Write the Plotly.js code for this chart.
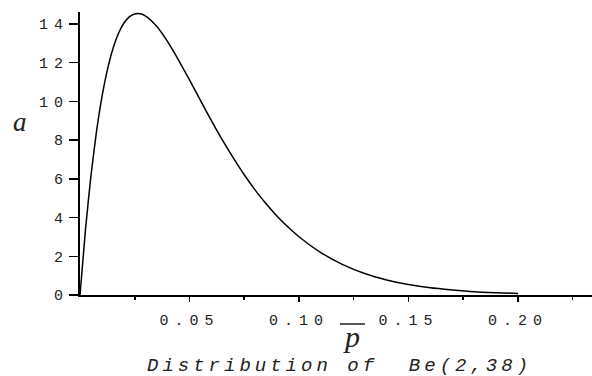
<!DOCTYPE html>
<html>
<head>
<meta charset="utf-8">
<script src="https://cdn.plot.ly/plotly-3.0.1.min.js"></script>
<style>
  html, body { margin: 0; padding: 0; background: #fff; }
  #chart { width: 592px; height: 376px; }
  .xtick text, .ytick text { letter-spacing: 6px; }
</style>
</head>
<body>
<div id="chart"></div>
<script>
// Values: Be(2,38) density curve
const pValues = [0, 0.0025, 0.005, 0.0075, 0.01, 0.0125, 0.015, 0.0175, 0.02, 0.0225, 0.025, 0.0275, 0.03, 0.035, 0.04, 0.045, 0.05, 0.055, 0.06, 0.065, 0.07, 0.075, 0.08, 0.085, 0.09, 0.095, 0.10, 0.11, 0.12, 0.13, 0.14, 0.15, 0.16, 0.17, 0.18, 0.19, 0.20];
const density = [0, 3.38, 6.16, 8.41, 10.22, 11.63, 12.71, 13.50, 14.04, 14.37, 14.52, 14.53, 14.41, 13.88, 13.09, 12.14, 11.11, 10.05, 9.01, 8.01, 7.08, 6.21, 5.42, 4.71, 4.07, 3.51, 3.01, 2.19, 1.57, 1.11, 0.78, 0.54, 0.37, 0.26, 0.17, 0.12, 0.08];

const xTickVals = [0.05, 0.10, 0.15, 0.20];
const xTickText = ['0.05', '0.10', '0.15', '0.20'];
const xMinorVals = [0.025, 0.075, 0.125, 0.175, 0.225];
const yTickVals = [0, 2, 4, 6, 8, 10, 12, 14];
const yTickText = ['0', '2', '4', '6', '8', '10', '12', '14'];

const yLabel = 'a';
const xLabel = 'p';
const captionText = 'Distribution of  Be(2,38)';

const tickFont = { family: 'Liberation Mono, Courier New, monospace', size: 15, color: '#222' };

const trace = {
  x: pValues,
  y: density,
  type: 'scatter',
  mode: 'lines',
  line: { color: '#000', width: 1.5, shape: 'spline', smoothing: 0.6 },
  hoverinfo: 'skip'
};

const layout = {
  width: 592,
  height: 376,
  margin: { l: 80, r: 0, t: 12, b: 81 },
  paper_bgcolor: '#fff',
  plot_bgcolor: '#fff',
  showlegend: false,
  xaxis: {
    range: [0, 0.2338],
    showgrid: false,
    zeroline: false,
    showline: true,
    linecolor: '#000',
    linewidth: 1.5,
    ticks: 'outside',
    ticklen: 5,
    tickwidth: 1.5,
    tickcolor: '#000',
    tickmode: 'array',
    tickvals: xTickVals,
    ticktext: xTickText,
    tickfont: tickFont,
    ticklabelstandoff: 5,
    minor: { tickmode: 'array', tickvals: xMinorVals, ticks: 'outside', ticklen: 3, tickwidth: 1.5, tickcolor: '#000', showgrid: false },
    fixedrange: true
  },
  yaxis: {
    range: [0, 14.62],
    showgrid: false,
    zeroline: false,
    showline: true,
    linecolor: '#000',
    linewidth: 2,
    ticks: 'outside',
    ticklen: 9,
    tickwidth: 1.5,
    tickcolor: '#000',
    tickmode: 'array',
    tickvals: yTickVals,
    ticktext: yTickText,
    tickfont: tickFont,
    ticklabelstandoff: -3,
    fixedrange: true
  },
  annotations: [
    { text: yLabel, xref: 'paper', yref: 'paper', x: -0.1172, y: 0.611, xanchor: 'center', yanchor: 'middle', showarrow: false,
      font: { family: 'Liberation Serif, serif', size: 27, style: 'italic', color: '#222' } },
    { text: xLabel, xref: 'paper', yref: 'paper', x: 0.5312, y: -0.145, xanchor: 'center', yanchor: 'middle', showarrow: false,
      font: { family: 'Liberation Serif, serif', size: 30, style: 'italic', color: '#222' } },
    { text: captionText, xref: 'paper', yref: 'paper', x: 0.507, y: -0.2509, xanchor: 'center', yanchor: 'middle', showarrow: false,
      font: { family: 'Liberation Mono, Courier New, monospace', size: 19, style: 'italic', color: '#222' } }
  ],
  shapes: [
    { type: 'line', xref: 'paper', yref: 'paper', x0: 0.5078, x1: 0.5566, y0: -0.1025, y1: -0.1025, line: { color: '#222', width: 1.5 } }
  ]
};

Plotly.newPlot('chart', [trace], layout, { displayModeBar: false, staticPlot: true }).then(function () {
  const caps = document.querySelectorAll('.annotation-text');
  caps.forEach(function (el) { if (el.textContent === captionText) { el.style.letterSpacing = '4px'; } });
});
</script>
</body>
</html>
